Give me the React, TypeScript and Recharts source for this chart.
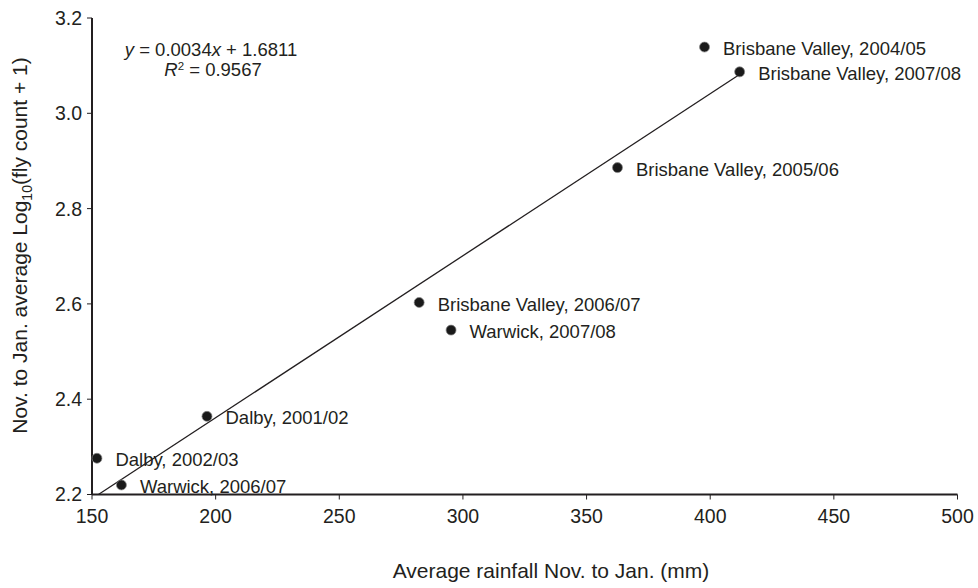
import React from 'react';
import { ScatterChart, Scatter, XAxis, YAxis, ReferenceLine, LabelList, Customized } from 'recharts';

const siteLabels = [
  'Brisbane Valley, 2004/05',
  'Brisbane Valley, 2007/08',
  'Brisbane Valley, 2005/06',
  'Brisbane Valley, 2006/07',
  'Warwick, 2007/08',
  'Dalby, 2001/02',
  'Dalby, 2002/03',
  'Warwick, 2006/07',
];
const rainfall = [397.7, 411.9, 362.5, 282.3, 295.2, 196.5, 152.0, 161.9];
const logFly = [3.139, 3.087, 2.886, 2.603, 2.545, 2.364, 2.276, 2.22];

const xTicks = [150, 200, 250, 300, 350, 400, 450, 500];
const yTicks = [2.2, 2.4, 2.6, 2.8, 3.0, 3.2];

const trendSlope = 0.0034;
const trendIntercept = 1.6811;
const trendR2 = 0.9567;
const trendXRange = [152.6, 412];

const data = siteLabels.map((name, i) => ({ name, x: rainfall[i], y: logFly[i] }));
const trendSegment = trendXRange.map((x) => ({ x, y: trendSlope * x + trendIntercept }));

const FONT = '"Liberation Sans", Arial, Helvetica, sans-serif';
const INK = '#231f20';

const Dot = (props: any) => {
  const { cx, cy } = props;
  return <circle cx={cx} cy={cy} r={5} fill="#1a1a1a" stroke="#888" strokeWidth={1} strokeOpacity={0.7} />;
};

const PointLabel = (props: any) => {
  const vb = props.viewBox ?? props;
  const cx = vb.x + (vb.width || 0) / 2;
  const cy = vb.y + (vb.height || 0) / 2;
  return (
    <text x={cx + 18.5} y={cy + 1.5} dy="0.355em" fontSize={18.5} fontFamily={FONT} fill={INK}>
      {props.value}
    </text>
  );
};

const Annotations = () => (
  <g fontFamily={FONT} fill={INK}>
    <text x={211} y={56} textAnchor="middle" fontSize={18.5}>
      <tspan fontStyle="italic">y</tspan>
      <tspan>{` = ${trendSlope}`}</tspan>
      <tspan fontStyle="italic">x</tspan>
      <tspan>{` + ${trendIntercept}`}</tspan>
    </text>
    <text x={213} y={76} textAnchor="middle" fontSize={18.5}>
      <tspan fontStyle="italic">R</tspan>
      <tspan dy={-6.5} fontSize={11.5}>2</tspan>
      <tspan dy={6.5}>{` = ${trendR2}`}</tspan>
    </text>
    <text x={551} y={578.3} textAnchor="middle" fontSize={21}>
      Average rainfall Nov. to Jan. (mm)
    </text>
    <text
      x={26.7}
      y={245.5}
      textAnchor="middle"
      fontSize={21}
      transform="rotate(-90 26.7 245.5)"
    >
      <tspan>Nov. to Jan. average Log</tspan>
      <tspan dy={5} fontSize={14}>10</tspan>
      <tspan dy={-5}>(fly count + 1)</tspan>
    </text>
  </g>
);

export default function App() {
  return (
    <div style={{ position: 'absolute', left: 0, top: 0, width: 978, height: 588, background: '#fff' }}>
      <ScatterChart width={978} height={588} margin={{ top: 18, right: 20.5, bottom: 0, left: 0 }}>
        <XAxis
          type="number"
          dataKey="x"
          domain={[150, 500]}
          ticks={xTicks}
          interval={0}
          height={93.5}
          axisLine={{ stroke: INK, strokeWidth: 2 }}
          tickLine={{ stroke: INK, strokeWidth: 1 }}
          tickSize={5}
          tickMargin={10}
          tick={{ fill: INK, fontSize: 19.5, fontFamily: FONT }}
        />
        <YAxis
          type="number"
          dataKey="y"
          domain={[2.2, 3.2]}
          ticks={yTicks}
          interval={0}
          width={92}
          axisLine={{ stroke: INK, strokeWidth: 2 }}
          tickLine={{ stroke: INK, strokeWidth: 1 }}
          tickSize={5}
          tickMargin={5}
          tickFormatter={(v: number) => v.toFixed(1)}
          tick={{ fill: INK, fontSize: 19.5, fontFamily: FONT }}
        />
        <ReferenceLine
          segment={trendSegment}
          stroke={INK}
          strokeWidth={1.3}
          ifOverflow="visible"
        />
        <Scatter data={data} shape={<Dot />} isAnimationActive={false}>
          <LabelList dataKey="name" content={<PointLabel />} />
        </Scatter>
        <Customized component={Annotations} />
      </ScatterChart>
    </div>
  );
}
